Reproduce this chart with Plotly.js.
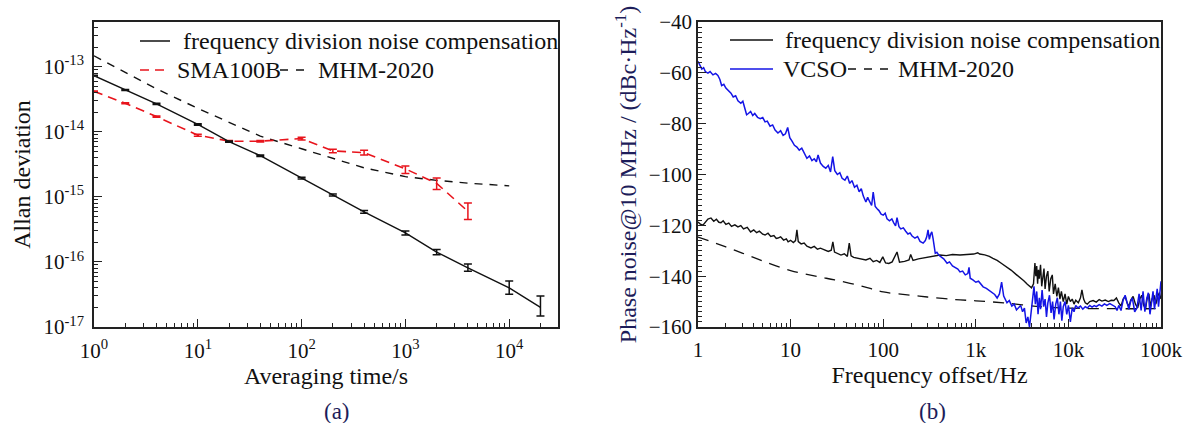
<!DOCTYPE html>
<html>
<head>
<meta charset="utf-8">
<script src="https://cdn.plot.ly/plotly-3.0.1.min.js"></script>
<style>html,body{margin:0;padding:0;background:#fff;}#chart{width:1188px;height:423px;}</style>
</head>
<body>
<div id="chart"></div>
<script>
// ---------- Panel (a): Allan deviation ----------
const tauFDNC = [1, 2, 4, 10, 20, 40, 100, 200, 400, 1000, 2000, 4000, 10000, 20000];
const adevFDNC = [7.3e-14, 4.4e-14, 2.7e-14, 1.3e-14, 7.1e-15, 4.3e-15, 1.95e-15, 1.07e-15, 5.9e-16, 2.8e-16, 1.42e-16, 8.1e-17, 4.0e-17, 2.0e-17];
const errUpFDNC = [1.2e-15, 0.8e-15, 0.5e-15, 0.3e-15, 0.15e-15, 0.1e-15, 0.06e-15, 0.04e-15, 0.03e-15, 0.2e-16, 0.13e-16, 1.2e-17, 1.1e-17, 1.0e-17];
const errDnFDNC = [1.2e-15, 0.8e-15, 0.5e-15, 0.3e-15, 0.15e-15, 0.1e-15, 0.06e-15, 0.04e-15, 0.03e-15, 0.2e-16, 0.13e-16, 0.9e-17, 0.8e-17, 0.52e-17];

const tauSMA = [1, 2, 4, 10, 20, 40, 100, 200, 400, 1000, 2000, 4000];
const adevSMA = [4.2e-14, 2.75e-14, 1.72e-14, 8.9e-15, 7.2e-15, 7.2e-15, 7.9e-15, 5.1e-15, 4.8e-15, 2.7e-15, 1.62e-15, 6.0e-16];
const errUpSMA = [0.6e-15, 0.5e-15, 0.4e-15, 0.3e-15, 0.2e-15, 0.2e-15, 0.4e-15, 0.3e-15, 0.4e-15, 0.3e-15, 0.33e-15, 2.1e-16];
const errDnSMA = [0.6e-15, 0.5e-15, 0.4e-15, 0.3e-15, 0.2e-15, 0.2e-15, 0.4e-15, 0.3e-15, 0.4e-15, 0.4e-15, 0.32e-15, 1.5e-16];

const tauMHM = [1, 2, 4, 10, 20, 40, 100, 200, 400, 1000, 2000, 4000, 10000];
const adevMHM = [1.48e-13, 8.2e-14, 4.6e-14, 2.3e-14, 1.42e-14, 8.6e-15, 5.5e-15, 3.9e-15, 2.8e-15, 2.05e-15, 1.8e-15, 1.63e-15, 1.48e-15];

const tickValsA_x = [1, 10, 100, 1000, 10000];
const tickTextA_x = ['10<sup>0</sup>', '10<sup>1</sup>', '10<sup>2</sup>', '10<sup>3</sup>', '10<sup>4</sup>'];
const tickValsA_y = [1e-17, 1e-16, 1e-15, 1e-14, 1e-13];
const tickTextA_y = ['10<sup>-17</sup>', '10<sup>-16</sup>', '10<sup>-15</sup>', '10<sup>-14</sup>', '10<sup>-13</sup>'];

// ---------- Panel (b): Phase noise ----------
const fVCSO = [1, 1.05, 1.1, 1.15, 1.2, 1.28, 1.35, 1.45, 1.55, 1.64, 1.72, 1.8, 1.9, 2.0, 2.1, 2.27, 2.4, 2.55, 2.7, 2.9, 3.05, 3.2, 3.35, 3.5, 3.7, 3.9, 4.1, 4.4, 4.7, 5.0, 5.3, 5.6, 6.0, 6.4, 6.8, 7.3, 7.8, 8.3, 8.8, 9.3, 9.8, 10.4, 11, 11.7, 12.4, 13.2, 14, 15, 16, 17, 18, 19, 19.8, 21, 22.5, 24, 25.5, 27, 28.5, 30, 32, 34, 36, 38.6, 41, 43.5, 46, 49, 52, 55, 58, 61, 65, 68, 71, 75, 78, 82, 86, 90, 95, 100, 105, 110, 117, 124, 130, 136, 141, 148, 155, 165, 175, 185, 195, 205, 220, 235, 250, 270, 285, 295, 305, 315, 325, 335, 345, 355, 365, 380, 400, 425, 450, 490, 520, 560, 600, 640, 675, 720, 770, 820, 845, 870, 930, 1000, 1070, 1150, 1200, 1300, 1400, 1500, 1600, 1700, 1800, 1900, 2000, 2170, 2300, 2450, 2600, 2750, 2900, 3050, 3200, 3350, 3500, 3650, 3800, 3950, 4100, 4250, 4400, 4550, 4700, 4850, 5000, 5200, 5400, 5600, 5800, 6000, 6250, 6500, 6750, 7000, 7300, 7600, 7900, 8200, 8500, 8800, 9200, 9600, 10000, 10500, 11000, 11500, 12000, 12700, 13500, 14300, 15200, 16000, 17000, 18000, 19000, 20000, 21500, 23000, 24500, 26000, 28000, 30000, 32000, 33500, 35000, 37000, 39000, 41000, 43000, 45000, 47000, 49000, 52000, 55000, 58000, 61000, 64000, 67000, 70000, 73000, 76000, 79000, 82000, 85000, 88000, 91000, 94000, 97000, 100000];
const pnVCSO = [-55.5, -57, -58.5, -58, -59.5, -60.1, -59.5, -60.8, -60.2, -61, -62.5, -65, -64.5, -66, -66.8, -68, -69.5, -69, -71, -72, -71.2, -74, -76.5, -76, -75.2, -76.8, -76, -77.5, -78, -77.6, -79.3, -79, -81, -80.5, -82.5, -83.7, -82.8, -84.6, -84, -81.5, -85.5, -87, -88.5, -89.2, -90.4, -89.6, -91.5, -93.6, -92.7, -94.5, -93.8, -95, -92.3, -95.5, -96.8, -97.5, -96.4, -99, -93, -98.5, -100, -99.3, -101.5, -102.2, -100.6, -103.5, -102.4, -105, -104.2, -106.8, -105.6, -108.5, -110.8, -109, -110.5, -112.2, -106.9, -112.6, -113.5, -114.2, -115.6, -116, -115.2, -117.4, -118.2, -117.5, -119, -120.2, -117, -120.5, -121.4, -121, -122.3, -123.4, -123, -124.2, -125, -124.4, -126.3, -127, -126, -124.5, -121.8, -125.5, -123.5, -122.6, -125, -128.5, -131, -130.6, -131.8, -132.5, -133.2, -134.9, -134.4, -136, -136.8, -137.2, -138.3, -138, -139.5, -139, -136.5, -140.8, -141.5, -142.4, -142, -143.6, -144.2, -144.8, -145.6, -146.5, -147.2, -148.6, -147, -142.3, -147.8, -150.5, -149.6, -151.8, -151, -153.3, -152.4, -151.5, -154, -152.6, -158.4, -156, -160, -155, -149, -144, -151, -146, -155, -148.5, -153, -145.5, -152, -149, -156, -150.5, -147.5, -154.5, -150, -157, -151, -148.5, -155, -150, -157.5, -152, -150, -155, -151.5, -158, -152.5, -154, -151.5, -152.5, -151.8, -153, -152, -152.5, -151.5, -152.2, -151.6, -152, -151.2, -151.8, -150.9, -151.5, -150.8, -151.4, -152, -153.5, -151.5, -153.5, -149.5, -147.5, -151, -153, -150, -148.5, -154, -152.5, -147, -153.5, -146, -154, -149, -146.5, -155, -151, -146, -153, -149.5, -145, -152, -147, -142];

const fFDNC = [1, 1.06, 1.13, 1.2, 1.28, 1.38, 1.48, 1.58, 1.68, 1.77, 1.87, 2.0, 2.15, 2.3, 2.5, 2.7, 2.9, 3.1, 3.4, 3.7, 4.0, 4.3, 4.6, 5.0, 5.3, 5.7, 6.1, 6.6, 7.0, 7.3, 7.8, 8.4, 9.0, 9.4, 10, 10.7, 11.3, 11.7, 12.1, 13, 14, 15, 16.6, 18, 19.5, 21, 23.5, 25.5, 27.5, 28.6, 29.8, 32, 35, 38, 41, 43, 45, 48, 53, 58, 65, 72, 78, 85, 92, 99, 106, 115, 125, 141, 150, 170, 190, 198, 210, 240, 270, 300, 350, 410, 480, 560, 675, 800, 950, 1050, 1100, 1250, 1400, 1530, 1700, 1900, 2160, 2400, 2700, 3000, 3300, 3600, 4000, 4200, 4350, 4450, 4550, 4650, 4750, 4850, 5000, 5150, 5300, 5450, 5600, 5800, 6000, 6200, 6450, 6700, 6900, 7200, 7500, 7800, 8100, 8400, 8800, 9200, 9600, 10000, 10500, 11000, 11500, 12000, 12800, 13500, 14000, 14600, 15200, 16000, 17000, 18500, 20000, 21500, 23000, 25000, 27000, 29000, 31000, 33000, 35000, 37000, 39000, 41000, 43000, 45000, 47000, 50000, 53000, 56000, 59000, 62000, 65000, 68000, 71000, 74000, 77000, 80000, 84000, 88000, 92000, 96000, 100000];
const pnFDNC = [-118.7, -119.5, -119.9, -118.5, -117.5, -117.1, -118.4, -117.6, -118.8, -119, -118.2, -119.6, -119.1, -120.4, -119.8, -120.6, -120.1, -121.4, -120.8, -122.6, -121.8, -122.9, -122.3, -123.5, -123.8, -123.1, -124.4, -124, -125.2, -125, -124.5, -125.8, -125.3, -126.5, -125.9, -126.8, -126, -121.8, -126.4, -127.3, -127, -128.2, -128.9, -128.3, -129.4, -129, -129.7, -130.3, -129.8, -126.5, -130.5, -131, -131.7, -131.2, -132.2, -127, -132, -132.6, -132.9, -133.4, -133.6, -133, -134.3, -133.8, -134.6, -132.4, -134.8, -135, -134.4, -130.5, -134.5, -134.2, -133.6, -131.5, -133.8, -133.2, -132.9, -132.4, -132.1, -131.7, -131.9, -131.5, -131.7, -131.4, -131.3, -130.8, -131.3, -131.6, -132.2, -133, -133.8, -135, -136.4, -137.6, -139.2, -140.5, -141.8, -143.2, -144.6, -143, -134.8, -140, -136, -143, -137.5, -141, -135.5, -144, -139, -137, -145, -140, -138, -146, -141, -139.5, -147, -143, -148, -144.5, -149, -146, -150, -147, -151, -148, -150, -149, -151, -149.5, -150.5, -148.5, -145.4, -149, -150.5, -151, -150, -149.6, -150.2, -149.2, -149.8, -149.4, -150, -149.5, -149.6, -148.6, -150.5, -151.8, -149, -148, -150.5, -152, -149.5, -148, -151, -152.5, -149, -147.5, -151.5, -153, -148.5, -147, -152, -149, -147.5, -151, -148, -146.5, -149];

const fMHM = [1, 2, 3, 5, 10, 20, 30, 60, 100, 200, 300, 600, 1000, 2000, 5000, 10000, 30000, 100000];
const pnMHM = [-124.6, -128.5, -130.9, -134, -137.8, -140.2, -141.5, -144, -146.2, -147.5, -148.2, -149.2, -149.7, -150.5, -152, -152.6, -152.8, -152.8];

const tickValsB_x = [1, 10, 100, 1000, 10000, 100000];
const tickTextB_x = ['1', '10', '100', '1k', '10k', '100k'];

// ---------- Layout helpers (pixel -> paper) ----------
const W = 1188, H = 423;
const px = x => x / W;
const py = y => 1 - y / H;
const FONT = '"Liberation Serif", "Times New Roman", serif';
const NAVY = '#1d1d5a';
const RED = '#e8141c';
const BLUE = '#1414e6';

const traces = [
  {x: tauMHM, y: adevMHM, xaxis: 'x', yaxis: 'y', mode: 'lines', showlegend: false,
   line: {color: '#111', width: 1.4, dash: '8px,7px'}, name: 'MHM-2020'},
  {x: tauSMA, y: adevSMA, xaxis: 'x', yaxis: 'y', mode: 'lines', showlegend: false,
   line: {color: RED, width: 1.6, dash: '9px,6px'}, name: 'SMA100B',
   error_y: {type: 'data', symmetric: false, array: errUpSMA, arrayminus: errDnSMA, color: RED, thickness: 1.5, width: 4}},
  {x: tauFDNC, y: adevFDNC, xaxis: 'x', yaxis: 'y', mode: 'lines', showlegend: false,
   line: {color: '#111', width: 1.4}, name: 'frequency division noise compensation',
   error_y: {type: 'data', symmetric: false, array: errUpFDNC, arrayminus: errDnFDNC, color: '#111', thickness: 1.5, width: 4}},
  {x: fMHM, y: pnMHM, xaxis: 'x2', yaxis: 'y2', mode: 'lines', showlegend: false,
   line: {color: '#111', width: 1.3, dash: '11px,8px', shape: 'spline'}, name: 'MHM-2020'},
  {x: fFDNC, y: pnFDNC, xaxis: 'x2', yaxis: 'y2', mode: 'lines', showlegend: false,
   line: {color: '#111', width: 1.4}, name: 'frequency division noise compensation'},
  {x: fVCSO, y: pnVCSO, xaxis: 'x2', yaxis: 'y2', mode: 'lines', showlegend: false,
   line: {color: BLUE, width: 1.5}, name: 'VCSO'}
];

const axCommon = {
  showline: true, linecolor: '#222', linewidth: 1.6, mirror: true, showgrid: false, zeroline: false,
  ticks: 'inside', ticklen: 8, tickwidth: 1.4, tickcolor: '#222',
  tickfont: {family: FONT, size: 21, color: '#111'}
};
const minorLog = {ticks: 'inside', ticklen: 4, tickwidth: 1.2, tickcolor: '#222', dtick: 'D1', showgrid: false};

const layout = {
  width: W, height: H,
  margin: {l: 0, r: 0, t: 0, b: 0},
  paper_bgcolor: '#fff', plot_bgcolor: '#fff',
  font: {family: FONT, size: 21, color: '#111'},
  showlegend: false,
  xaxis: Object.assign({}, axCommon, {
    type: 'log', domain: [px(94), px(558)], range: [0, 4.47], anchor: 'y',
    tickmode: 'array', tickvals: tickValsA_x, ticktext: tickTextA_x, ticklabelstandoff: 4,
    minor: minorLog,
    title: {text: 'Averaging time/s', font: {family: FONT, size: 24, color: '#111'}, standoff: 3}
  }),
  yaxis: Object.assign({}, axCommon, {
    type: 'log', domain: [py(327), py(22)], range: [-17, -12.31], anchor: 'x',
    tickmode: 'array', tickvals: tickValsA_y, ticktext: tickTextA_y, ticklabelstandoff: 4,
    minor: minorLog,
    title: {text: 'Allan deviation', font: {family: FONT, size: 24, color: '#111'}, standoff: 6}
  }),
  xaxis2: Object.assign({}, axCommon, {
    type: 'log', domain: [px(698), px(1161)], range: [0, 5], anchor: 'y2',
    tickmode: 'array', tickvals: tickValsB_x, ticktext: tickTextB_x, ticklabelstandoff: 3,
    minor: minorLog,
    title: {text: 'Frequency offset/Hz', font: {family: FONT, size: 24, color: '#111'}, standoff: 4}
  }),
  yaxis2: Object.assign({}, axCommon, {
    domain: [py(327), py(22)], range: [-160, -40], anchor: 'x2',
    tickmode: 'linear', tick0: -160, dtick: 20,
    minor: {ticks: 'inside', ticklen: 4, tickwidth: 1.1, tickcolor: '#222', dtick: 2, showgrid: false},
    title: {text: 'Phase noise@10 MHz / (dBc·Hz<sup>-1</sup>)', font: {family: FONT, size: 24, color: NAVY}, standoff: 5}
  }),
  shapes: [
    // legend samples panel (a)
    {type: 'line', xref: 'paper', yref: 'paper', x0: px(140), x1: px(170), y0: py(41), y1: py(41), line: {color: '#111', width: 1.5}},
    {type: 'line', xref: 'paper', yref: 'paper', x0: px(140), x1: px(166), y0: py(70), y1: py(70), line: {color: RED, width: 1.6, dash: '9px,6px'}},
    {type: 'line', xref: 'paper', yref: 'paper', x0: px(280), x1: px(306), y0: py(70), y1: py(70), line: {color: '#111', width: 1.4, dash: '8px,8px'}},
    // legend samples panel (b)
    {type: 'line', xref: 'paper', yref: 'paper', x0: px(730), x1: px(773), y0: py(40), y1: py(40), line: {color: '#111', width: 1.5}},
    {type: 'line', xref: 'paper', yref: 'paper', x0: px(730), x1: px(773), y0: py(69), y1: py(69), line: {color: BLUE, width: 1.5}},
    {type: 'line', xref: 'paper', yref: 'paper', x0: px(848), x1: px(888), y0: py(69), y1: py(69), line: {color: '#111', width: 1.4, dash: '8px,8px'}}
  ],
  annotations: [
    {text: 'frequency division noise compensation', xref: 'paper', yref: 'paper', x: px(181), y: py(41), xanchor: 'left', yanchor: 'middle', showarrow: false, font: {family: FONT, size: 24, color: '#111'}},
    {text: 'SMA100B', xref: 'paper', yref: 'paper', x: px(175), y: py(70), xanchor: 'left', yanchor: 'middle', showarrow: false, font: {family: FONT, size: 24, color: '#111'}},
    {text: 'MHM-2020', xref: 'paper', yref: 'paper', x: px(316), y: py(70), xanchor: 'left', yanchor: 'middle', showarrow: false, font: {family: FONT, size: 24, color: '#111'}},
    {text: 'frequency division noise compensation', xref: 'paper', yref: 'paper', x: px(783), y: py(40), xanchor: 'left', yanchor: 'middle', showarrow: false, font: {family: FONT, size: 24, color: '#111'}},
    {text: 'VCSO', xref: 'paper', yref: 'paper', x: px(781), y: py(69), xanchor: 'left', yanchor: 'middle', showarrow: false, font: {family: FONT, size: 24, color: '#111'}},
    {text: 'MHM-2020', xref: 'paper', yref: 'paper', x: px(896), y: py(69), xanchor: 'left', yanchor: 'middle', showarrow: false, font: {family: FONT, size: 24, color: '#111'}},
    {text: '(a)', xref: 'paper', yref: 'paper', x: px(337), y: py(411), xanchor: 'center', yanchor: 'middle', showarrow: false, font: {family: FONT, size: 23, color: NAVY}},
    {text: '(b)', xref: 'paper', yref: 'paper', x: px(932), y: py(411), xanchor: 'center', yanchor: 'middle', showarrow: false, font: {family: FONT, size: 23, color: NAVY}}
  ]
};

Plotly.newPlot('chart', traces, layout, {displayModeBar: false});
</script>
</body>
</html>
